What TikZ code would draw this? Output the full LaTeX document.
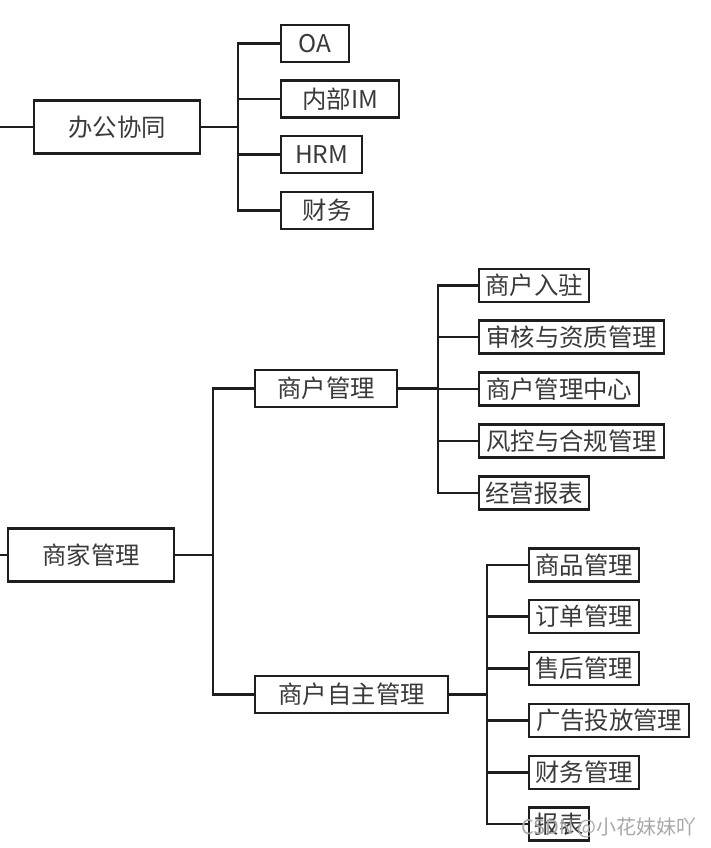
\documentclass[tikz,border=0pt]{standalone}
\usepackage{fontspec}
\newfontfamily\cjk{Noto Sans CJK SC}
\usetikzlibrary{positioning}
\definecolor{tkInk}{HTML}{1E1E1E}
\definecolor{tkText}{HTML}{3A3A3A}
\definecolor{tkMark}{HTML}{A8A8A8}
\tikzset{
 orgtree/.style={x=0.5pt,y=-0.5pt,line cap=rect,line join=miter},
 unit/.style={draw=tkInk,line width=1.2pt,fill=white,inner sep=0pt,anchor=west,
   font=\cjk\fontsize{12.2}{14}\selectfont,text=tkText},
 root/.style={unit,minimum height=26.5pt},
 branch/.style={unit,minimum height=18.5pt},
 leaf/.style={unit,minimum height=16.5pt},
 link/.style={draw=tkInk,line width=1.1pt},
 watermark/.style={font=\cjk\fontsize{10}{12}\selectfont,text=tkMark}
}

\begin{document}
\begin{tikzpicture}[orgtree]
 \useasboundingbox (0,0) rectangle (711,848);
 % office group
 \node[root,minimum width=83pt] (office) at (33,127) {办公协同};
 \node[branch,minimum width=34pt] (oa) at (280,43.5) {OA};
 \node[branch,minimum width=59pt] (im) at (280,99) {内部IM};
 \node[branch,minimum width=40.5pt] (hrm) at (280,154.5) {HRM};
 \node[branch,minimum width=46pt] (fin) at (280,210.5) {财务};
 \coordinate (officeIn) at (0,127);
 \coordinate (officeJ) at (238,127);
 \draw[link] (officeIn) -- (office.west);
 \draw[link] (office.east) -- (officeJ);
 \foreach \c in {oa,im,hrm,fin}{\draw[link] (officeJ) |- (\c.west);}
 % merchant group
 \node[root,minimum width=83pt] (merch) at (7,555) {商家管理};
 \node[branch,minimum width=71pt] (shop) at (254,388.5) {商户管理};
 \node[branch,minimum width=96.5pt] (self) at (254,694.5) {商户自主管理};
 \coordinate (merchIn) at (0,555);
 \coordinate (merchJ) at (213,555);
 \draw[link] (merchIn) -- (merch.west);
 \draw[link] (merch.east) -- (merchJ);
 \foreach \c in {shop,self}{\draw[link] (merchJ) |- (\c.west);}
 % shop children
 \node[leaf,minimum width=55pt] (settle) at (478,285.5) {商户入驻};
 \node[leaf,minimum width=92.5pt] (audit) at (478,337) {审核与资质管理};
 \node[leaf,minimum width=80pt] (hub) at (478,389) {商户管理中心};
 \node[leaf,minimum width=92.5pt] (risk) at (478,441) {风控与合规管理};
 \node[leaf,minimum width=55pt] (biz) at (478,493) {经营报表};
 \coordinate (shopJ) at (438,388.5);
 \draw[link] (shop.east) -- (shopJ);
 \foreach \c in {settle,audit,hub,risk,biz}{\draw[link] (shopJ) |- (\c.west);}
 % self-service children
 \node[leaf,minimum width=55pt] (goods) at (528,565) {商品管理};
 \node[leaf,minimum width=55pt] (order) at (528,616.5) {订单管理};
 \node[leaf,minimum width=55pt] (after) at (528,668.5) {售后管理};
 \node[leaf,minimum width=80pt] (ads) at (528,720.5) {广告投放管理};
 \node[leaf,minimum width=55pt] (sfin) at (528,772.5) {财务管理};
 \node[leaf,minimum width=30pt] (rep) at (528,824) {报表};
 \coordinate (selfJ) at (487,694.5);
 \draw[link] (self.east) -- (selfJ);
 \foreach \c in {goods,order,after,ads,sfin,rep}{\draw[link] (selfJ) |- (\c.west);}
 \node[watermark] (mark) at (609,828) {CSDN @小花妹妹吖};
\end{tikzpicture}
\end{document}
